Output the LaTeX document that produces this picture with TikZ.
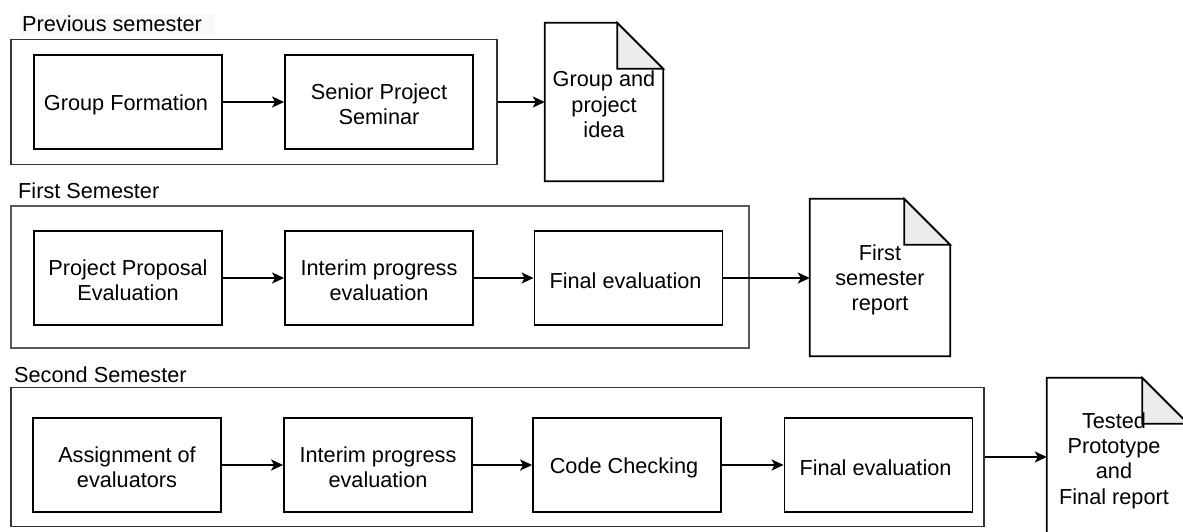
\documentclass[tikz,border=0pt]{standalone}
\usepackage{fontspec}
\setmainfont{Liberation Sans}
\usetikzlibrary{arrows.meta}
\definecolor{framecol}{HTML}{333333}
\definecolor{foldcol}{HTML}{EBEBEB}
\definecolor{lblbg}{HTML}{F8F9FA}
\begin{document}
\begin{tikzpicture}[x=1pt,y=-1pt,
  every node/.style={font=\fontsize{21.7}{25.3}\selectfont, text=black},
  frame/.style={draw=framecol, line width=1.8pt, minimum width=#1, inner sep=0pt},
  stepbox/.style={draw=black, line width=1.8pt, minimum width=188pt, minimum height=94pt, align=center, inner sep=0pt},
  docbox/.style={inner sep=0pt},
  doctext/.style={align=center, inner sep=0pt},
  lbl/.style={inner sep=0pt, anchor=base west},
  lift/.style={yshift=-2.5pt},
  conn/.style={line width=1.8pt, -{Stealth[length=12pt,width=11pt,inset=3pt]}}
]
\useasboundingbox (0,0) rectangle (1183,532);
\clip (0,0) rectangle (1183,532);

% section labels
\fill[lblbg] (20,14) rectangle (215,36);
\node[lbl] (l1) at (22,32) {Previous semester};
\node[lbl] (l2) at (18,198) {First Semester};
\node[lbl] (l3) at (14,382) {Second Semester};

% frames
\node[frame=486pt, minimum height=125pt] (f1) at (254,102) {};
\node[frame=738pt, minimum height=142pt, draw=black!65] (f2) at (380,277) {};
\node[frame=973pt, minimum height=139pt] (f3) at (497.5,457) {};

% boxes
\node[stepbox] (gf) at (128,102) {};
\node[stepbox] (sps) at (379,102) {};
\node[stepbox] (ppe) at (128,278) {};
\node[stepbox] (ipe1) at (379,278) {};
\node[stepbox] (fe1) at (628.5,278) {};
\node[stepbox] (aoe) at (127,465) {};
\node[stepbox] (ipe2) at (378,465) {};
\node[stepbox] (cc) at (627,465) {};
\node[stepbox] (fe2) at (878.5,465) {};
\node[doctext, lift] (gft) at ([xshift=-2pt]gf) {Group Formation};
\node[doctext, lift] (spst) at (sps) {Senior Project\\Seminar};
\node[doctext, lift] (ppet) at (ppe) {Project Proposal\\Evaluation};
\node[doctext, lift] (ipe1t) at (ipe1) {Interim progress\\evaluation};
\node[doctext, lift] (fe1t) at ([xshift=-3pt]fe1) {Final evaluation};
\node[doctext, lift] (aoet) at (aoe) {Assignment of\\evaluators};
\node[doctext, lift] (ipe2t) at (ipe2) {Interim progress\\evaluation};
\node[doctext, lift] (cct) at ([xshift=-3pt]cc) {Code Checking};
\node[doctext, lift] (fe2t) at ([xshift=-3pt]fe2) {Final evaluation};

% documents
\node[docbox, minimum width=118pt, minimum height=158pt] (d1) at (604,102) {};
\node[docbox, minimum width=140pt, minimum height=157pt] (d2) at (880,277.5) {};
\node[docbox, minimum width=141pt, minimum height=160pt] (d3) at (1117.5,458) {};
\foreach \d in {d1,d2,d3}{
  \draw[line width=1.8pt, fill=white, line join=miter]
    (\d.north west) -- ([xshift=-46pt]\d.north east) -- ([yshift=-46pt]\d.north east)
    -- (\d.south east) -- (\d.south west) -- cycle;
  \draw[line width=1.8pt, fill=foldcol, line join=miter]
    ([xshift=-46pt]\d.north east) -- ([xshift=-46pt,yshift=-46pt]\d.north east)
    -- ([yshift=-46pt]\d.north east) -- cycle;
}
\node[doctext, lift] (d1t) at (d1) {Group and\\project\\idea};
\node[doctext, lift] (d2t) at (d2) {First\\semester\\report};
\node[doctext, lift] (d3t) at (1114,458) {Tested\\Prototype\\and\\Final report};

% connectors
\draw[conn] (gf) -- (sps);
\draw[conn] (f1.east) -- (d1.west |- f1.east);
\draw[conn] (ppe) -- (ipe1);
\draw[conn] (ipe1) -- (fe1);
\draw[conn] (fe1.east) -- (d2.west |- fe1.east);
\draw[conn] (aoe) -- (ipe2);
\draw[conn] (ipe2) -- (cc);
\draw[conn] (cc) -- (fe2);
\draw[conn] (f3.east) -- (d3.west |- f3.east);
\end{tikzpicture}
\end{document}
